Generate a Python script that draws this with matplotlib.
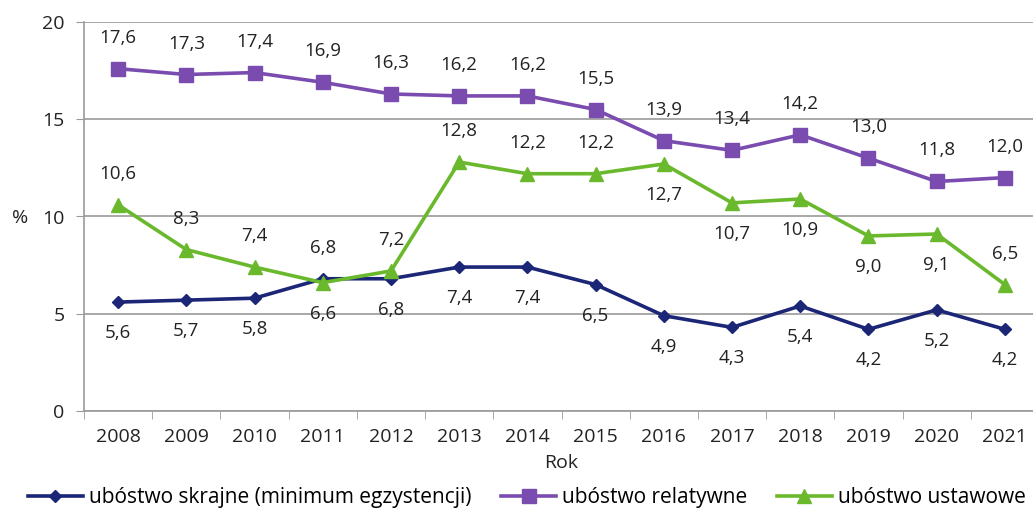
import matplotlib
matplotlib.use("Agg")
import matplotlib.pyplot as plt
from matplotlib.ticker import FixedLocator

YEARS = [str(y) for y in range(2008, 2022)]
SKRAJNE = [5.6, 5.7, 5.8, 6.8, 6.8, 7.4, 7.4, 6.5, 4.9, 4.3, 5.4, 4.2, 5.2, 4.2]
RELATYWNE = [17.6, 17.3, 17.4, 16.9, 16.3, 16.2, 16.2, 15.5, 13.9, 13.4, 14.2, 13.0, 11.8, 12.0]
USTAWOWE = [10.6, 8.3, 7.4, 6.6, 7.2, 12.8, 12.2, 12.2, 12.7, 10.7, 10.9, 9.0, 9.1, 6.5]
# label placement: +1 above the point, -1 below
SKRAJNE_POS = [-1, -1, -1, 1, -1, -1, -1, -1, -1, -1, -1, -1, -1, -1]
RELATYWNE_POS = [1] * 14
USTAWOWE_POS = [1, 1, 1, -1, 1, 1, 1, 1, -1, -1, -1, -1, -1, 1]

NAVY = "#1c2677"
PURPLE = "#7a4cb0"
GREEN = "#6ab92d"
GRID = "#9a9a9a"
TXT = "#222222"

plt.rcParams["font.family"] = ["Open Sans", "DejaVu Sans"]

fig = plt.figure(figsize=(10.33, 5.09), dpi=100)
ax = fig.add_axes([84 / 1033, 98 / 509, 955 / 1033, 389 / 509])

x = list(range(len(YEARS)))
series = [
    (SKRAJNE, SKRAJNE_POS, NAVY, "D", 6, "ubóstwo skrajne (minimum egzystencji)"),
    (RELATYWNE, RELATYWNE_POS, PURPLE, "s", 10, "ubóstwo relatywne"),
    (USTAWOWE, USTAWOWE_POS, GREEN, "^", 10, "ubóstwo ustawowe"),
]
for vals, pos, col, mk, ms, lab in series:
    ax.plot(x, vals, color=col, lw=2.6, marker=mk, ms=ms, label=lab, zorder=3,
            clip_on=False)
    for xi, v, p in zip(x, vals, pos):
        ax.annotate(f"{v:.1f}".replace(".", ","), (xi, v),
                    xytext=(0, 31 * p), textcoords="offset pixels",
                    ha="center", va="center", fontsize=13.5, color=TXT)

ax.set_xlim(-0.5, len(YEARS) - 0.5)
ax.set_ylim(0, 20)
ax.set_yticks([0, 5, 10, 15, 20])
ax.set_xticks(x)
ax.set_xticklabels(YEARS)
ax.xaxis.set_minor_locator(FixedLocator([i - 0.5 for i in range(len(YEARS) + 1)]))
ax.tick_params(axis="x", which="major", length=0, pad=12, labelsize=14,
               labelcolor=TXT)
ax.tick_params(axis="x", which="minor", length=6, color=GRID, direction="out")
ax.tick_params(axis="y", length=6, color=GRID, labelsize=14, labelcolor=TXT,
               pad=8)
ax.grid(axis="y", color=GRID, lw=1.2)
ax.set_axisbelow(True)
for s in ["top", "right"]:
    ax.spines[s].set_visible(False)
for s in ["left", "bottom"]:
    ax.spines[s].set_color(GRID)
    ax.spines[s].set_linewidth(1.2)

ax.set_xlabel("Rok", fontsize=14, color=TXT, labelpad=6)
fig.text(20 / 1033, 1 - 218 / 509, "%", fontsize=14, color=TXT,
         ha="center", va="center")

ax.legend(loc="center left", bbox_to_anchor=(-64 / 955, -0.222),
          ncol=3, frameon=False, fontsize=15, handlelength=2.6,
          handletextpad=0.3, columnspacing=1.45, borderaxespad=0)

fig.savefig("out.png", dpi=100)
